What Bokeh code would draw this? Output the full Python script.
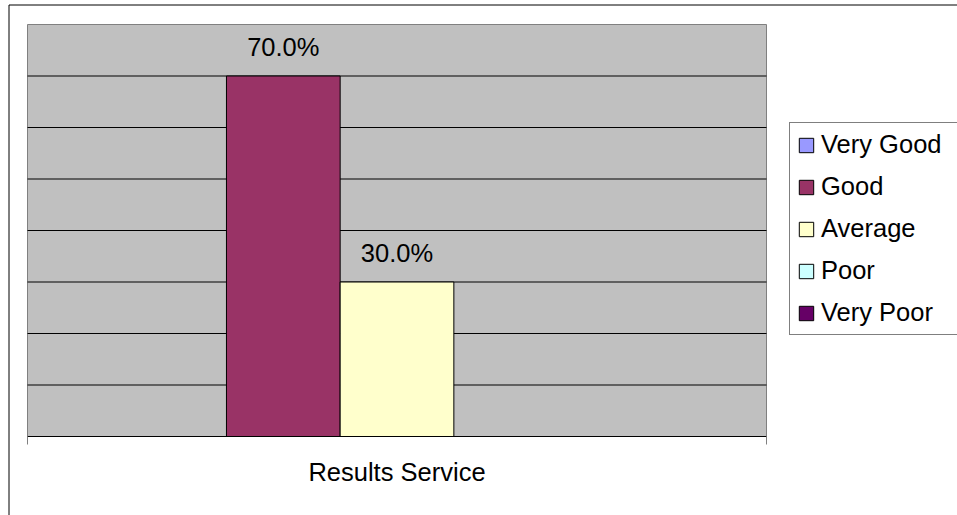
from bokeh.plotting import figure
from bokeh.models import (ColumnDataSource, Range1d, FixedTicker, LinearAxis, Legend,
                          LegendItem, BoxAnnotation)
from bokeh.transform import dodge
from bokeh.core.properties import value
from bokeh.embed import file_html
from bokeh.resources import INLINE

categories = ["Results Service"]
series = ["Very Good", "Good", "Average", "Poor", "Very Poor"]
values = [0.0, 70.0, 30.0, 0.0, 0.0]
colors = ["#9999FF", "#993366", "#FFFFCC", "#CCFFFF", "#660066"]
y_ticks = [0, 10, 20, 30, 40, 50, 60, 70, 80]

FONT = "Liberation Sans"
FS = "25.5px"
W, H = 957, 515
# plot-area placement on the canvas (pixels)
PA_L, PA_R, PA_T, PA_B = 27, 766, 24, 436

ncat = len(categories)
xpp = ncat / (PA_R - PA_L)                       # data units per pixel (x)
ypp = (y_ticks[-1] - y_ticks[0]) / (PA_B - PA_T)  # data units per pixel (y)

p = figure(width=W, height=H, output_backend="svg", toolbar_location=None,
           x_range=Range1d(0 - PA_L * xpp, ncat + (W - PA_R) * xpp),
           y_range=Range1d(y_ticks[0] - (H - PA_B) * ypp, y_ticks[-1] + PA_T * ypp),
           min_border=0, min_border_left=0, min_border_right=0,
           min_border_top=0, min_border_bottom=0,
           x_axis_type=None, y_axis_type=None)
p.background_fill_color = "white"
p.border_fill_color = "white"
p.outline_line_color = None
p.xgrid.visible = False
p.ygrid.visible = False

# plot area (grey) and gridlines
p.quad(left=[0], right=[ncat], bottom=[y_ticks[0]], top=[y_ticks[-1]],
       fill_color="#C0C0C0", line_color="#808080", line_width=1)
p.segment(x0=[0] * (len(y_ticks) - 2), x1=[ncat] * (len(y_ticks) - 2),
          y0=y_ticks[1:-1], y1=y_ticks[1:-1], line_color="black", line_width=1)

n = len(series)
bw = 1.0 / (n + 1.5)
centers = [k + 0.5 for k in range(ncat)]
items = []
for i, s in enumerate(series):
    src = ColumnDataSource(dict(x=centers, top=[values[i]],
                                label=[f"{values[i]:.1f}%" if values[i] > 0 else ""]))
    off = (i - (n - 1) / 2) * bw
    r = p.vbar(x=dodge("x", off, range=p.x_range), top="top", width=bw, bottom=0,
               fill_color=colors[i], line_color="black", line_width=1, source=src)
    p.text(x=dodge("x", off, range=p.x_range), y="top", text="label", source=src,
           text_align="center", text_baseline="alphabetic", y_offset=-29,
           text_font=value(FONT), text_font_size=FS, text_color="black")
    items.append(LegendItem(label=s, renderers=[r]))

xaxis = LinearAxis(ticker=FixedTicker(ticks=centers, minor_ticks=list(range(ncat + 1))),
                   major_label_overrides={c: lab for c, lab in zip(centers, categories)},
                   fixed_location=y_ticks[0], bounds=(0, ncat),
                   major_tick_line_color=None, major_tick_in=0, major_tick_out=8,
                   minor_tick_in=0, minor_tick_out=8, minor_tick_line_color="#808080",
                   axis_line_color="black", axis_line_width=1,
                   major_label_text_font=FONT, major_label_text_font_size=FS,
                   major_label_text_color="black", major_label_standoff=13)
p.add_layout(xaxis, "below")

legend = Legend(items=items, location=(789, 180), orientation="vertical",
                label_text_font=FONT, label_text_font_size=FS, label_text_color="black",
                glyph_width=18, glyph_height=18, label_standoff=6, padding=7,
                spacing=13, label_height=22, label_width=200,
                border_line_color="black", border_line_width=1,
                background_fill_color="white", background_fill_alpha=1.0)
p.add_layout(legend)

outer = BoxAnnotation(left=8.5, right=W + 20, top=4.5, bottom=H + 20,
                      left_units="canvas", right_units="canvas",
                      top_units="canvas", bottom_units="canvas",
                      fill_alpha=0, line_color="black", line_alpha=1.0, line_width=1)
p.add_layout(outer)

open("out.html", "w").write(file_html(p, INLINE))
